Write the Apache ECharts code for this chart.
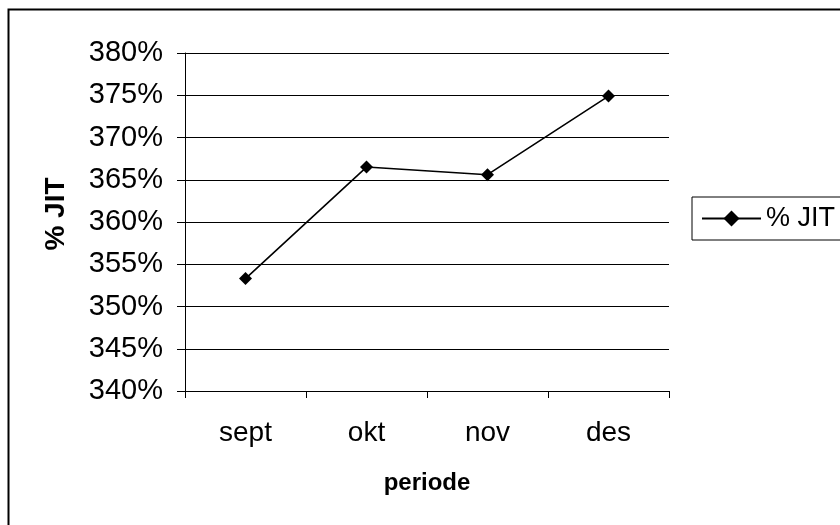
<!DOCTYPE html>
<html>
<head>
<meta charset="utf-8">
<script src="https://cdn.jsdelivr.net/npm/echarts@6/dist/echarts.min.js"></script>
<style>
html,body{margin:0;padding:0;background:#fff;}
#chart{width:840px;height:525px;}
</style>
</head>
<body>
<div id="chart"></div>
<script>
var categories = ['sept', 'okt', 'nov', 'des'];
var seriesName = '% JIT';
var jitValues = [353.3, 366.5, 365.6, 374.9];
var yMin = 340, yMax = 380, yStep = 5;
var xTitle = 'periode';
var yTitle = '% JIT';

var chart = echarts.init(document.getElementById('chart'), null, {renderer: 'canvas'});
var FONT = '"Liberation Sans", Arial, sans-serif';
chart.setOption({
  backgroundColor: '#fff',
  animation: false,
  graphic: [{
    type: 'rect', left: 6, top: 7, z: -1,
    shape: {width: 900, height: 600},
    style: {fill: 'none', stroke: '#000', lineWidth: 2}
  }, {
    type: 'text', x: 56, y: 214, rotation: Math.PI / 2,
    style: {
      text: yTitle, fontFamily: FONT, fontSize: 28, fontWeight: 'bold', fill: '#000',
      align: 'center', verticalAlign: 'middle'
    }
  }],
  grid: {left: 185, right: 171, top: 53, bottom: 134},
  legend: {
    left: 692, top: 197,
    data: [seriesName],
    itemWidth: 59, itemHeight: 20, itemGap: 10,
    padding: [8, 40, 8, 9],
    borderColor: '#000', borderWidth: 1,
    textStyle: {fontFamily: FONT, fontSize: 27, color: '#000'}
  },
  xAxis: {
    type: 'category',
    data: categories,
    boundaryGap: true,
    name: xTitle,
    nameLocation: 'middle',
    nameGap: 80,
    nameTextStyle: {fontFamily: FONT, fontSize: 24, fontWeight: 'bold', color: '#000'},
    axisLine: {lineStyle: {color: '#000', width: 1}},
    axisTick: {show: true, length: 7, inside: false, lineStyle: {color: '#000'}},
    axisLabel: {fontFamily: FONT, fontSize: 28, color: '#000', margin: 28},
    splitLine: {show: false}
  },
  yAxis: {
    type: 'value',
    min: yMin, max: yMax, interval: yStep,
    axisLine: {show: true, lineStyle: {color: '#000', width: 1}},
    axisTick: {show: true, length: 8, inside: false, lineStyle: {color: '#000'}},
    axisLabel: {fontFamily: FONT, fontSize: 29, color: '#000', margin: 22, formatter: '{value}%'},
    splitLine: {show: true, lineStyle: {color: '#000', width: 1}}
  },
  series: [{
    name: seriesName,
    type: 'line',
    data: jitValues,
    symbol: 'diamond',
    symbolSize: 13,
    itemStyle: {color: '#000'},
    lineStyle: {color: '#000', width: 1.6}
  }]
});
</script>
</body>
</html>
